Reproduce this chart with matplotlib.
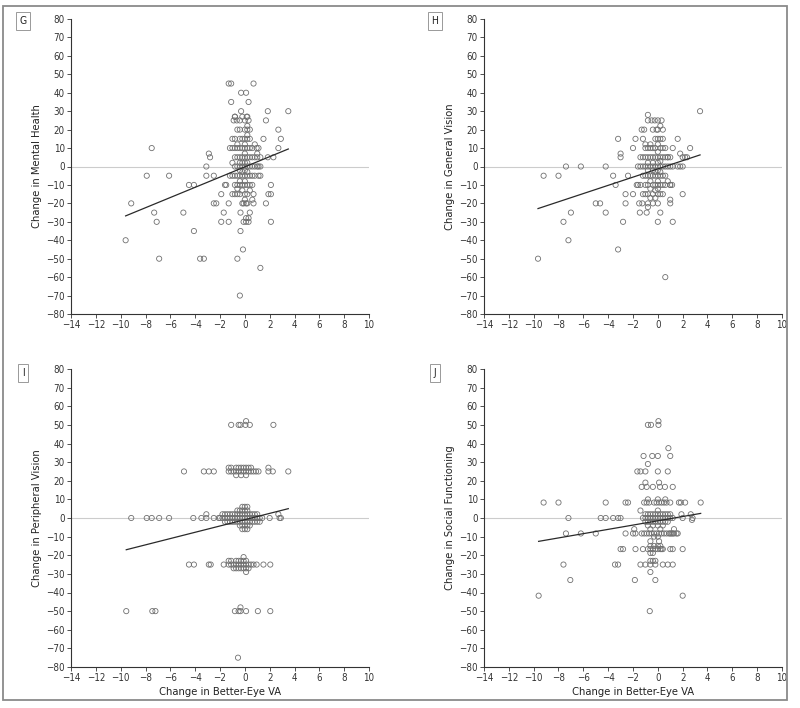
import numpy as np
import matplotlib.pyplot as plt
from matplotlib.patches import Rectangle
from matplotlib import font_manager

# a narrow face if one is around, else plain DejaVu
names = {f.name for f in font_manager.fontManager.ttflist}
narrow = [n for n in ['Liberation Sans Narrow', 'DejaVu Sans'] if n in names]
plt.rcParams['font.family'] = narrow
plt.rcParams['font.stretch'] = 'condensed'

# ---- data ----
x_ticks = list(range(-14, 11, 2))
y_ticks = list(range(-80, 81, 10))

panel_letters = ['G', 'H', 'I', 'J']
panel_ylabels = ['Change in Mental Health', 'Change in General Vision',
                 'Change in Peripheral Vision', 'Change in Social Functioning']
x_label = 'Change in Better-Eye VA'

# fitted regression lines (slope, intercept)
fit_slopes = [2.77, 2.23, 1.69, 1.15]
fit_intercepts = [-0.2, -1.3, -0.9, -1.5]

# G: mental health, scattered points
g_points = [(-9.6, -40), (-9.15, -20), (-7.5, 10), (-7.9, -5), (-7.3, -25), (-7.1, -30),
            (-6.9, -50), (-6.1, -5), (-4.95, -25), (-4.5, -10), (-4.1, -10), (-4.1, -35),
            (-3.6, -50), (-3.3, -50), (-2.9, 7), (-2.8, 5), (-3.1, 0), (-3.1, -5),
            (-2.5, -5), (-2.5, -20), (-2.3, -20), (-1.9, -15), (-1.9, -30), (-1.7, -25),
            (-1.6, -10), (-1.5, -10), (-1.3, -20), (-1.3, -30), (-1.3, 45), (-1.1, 45),
            (-1.1, 35), (0.7, 45), (-0.3, 40), (0.1, 40), (0.3, 35), (-0.3, 30),
            (1.85, 30), (3.5, 30), (1.7, 25), (2.7, 20), (2.9, 15), (1.5, 15), (2.7, 10),
            (2.3, 5), (1.85, 5), (2.1, -10), (2.1, -15), (1.9, -15), (1.7, -20),
            (2.1, -30), (1.25, -55), (-0.35, -35), (-0.15, -45), (-0.6, -50), (-0.4, -70),
            (0.4, -25), (0.3, -30), (0.1, -30), (-0.1, -30), (0.1, -28), (0.3, -28),
            (0.7, -20), (0.7, -15), (-0.35, -25), (-0.1, -20), (0.1, -20), (-0.9, 25),
            (-0.65, 25), (-0.8, 27), (0.15, 27), (0.3, 25), (1.1, -5), (1.25, -5),
            (1.25, 0), (1.1, 0), (0.95, 10), (1.1, 10), (1.25, 5)]
# G: dense centre, x -> list of y
g_columns = {-1.2: [10, -5], -1.0: [10, 2, -5, -15, 15],
             -0.8: [10, 15, 5, 0, -5, -10, -15, 27],
             -0.6: [10, 12, 5, 0, -5, -10, -15, 20, -12],
             -0.4: [20, 15, 10, 5, 2, 0, -2, -5, -8, -10, -15, 25],
             -0.2: [15, 10, 5, 2, 0, -3, -5, -10, -13, -20, 27],
             0.0: [25, 20, 15, 12, 10, 7, 5, 2, 0, -2, -5, -8, -10, -15, -18],
             0.2: [27, 22, 20, 17, 15, 10, 5, 2, 0, -3, -5, -10, -15, -20],
             0.4: [20, 15, 10, 5, 0, -5, -10, -13],
             0.6: [10, 5, 0, -5, -10, -18], 0.8: [12, 5, 0, -5], 1.0: [7, 5, 0]}

# H: general vision
h_points = [(-9.65, -50), (-9.2, -5), (-8.0, -5), (-7.6, -30), (-7.4, 0), (-7.2, -40),
            (-7.0, -25), (-6.2, 0), (-5.0, -20), (-4.65, -20), (-4.2, 0), (-4.2, -25),
            (-3.6, -5), (-3.4, -10), (-3.2, 15), (-3.0, 7), (-3.0, 5), (-3.2, -45),
            (-2.8, -30), (-2.6, -15), (-2.6, -20), (-2.4, -5), (-2.0, 10), (-2.0, -15),
            (-1.8, 15), (-1.7, -10), (-1.45, -25), (-1.5, -20), (-1.25, -20), (-1.2, 15),
            (-1.3, 20), (-1.1, 20), (-0.8, 28), (-0.8, 25), (-0.5, 25), (-0.25, 25),
            (0.0, 25), (0.3, 25), (-0.4, 20), (-0.1, 20), (0.4, 20), (-0.9, -25),
            (-0.8, -22), (0.0, -30), (0.2, -25), (0.6, -60), (1.2, -30), (1.0, -20),
            (1.0, -18), (2.0, -15), (1.6, 15), (1.2, 10), (1.8, 7), (2.0, 5), (2.2, 5),
            (2.35, 5), (2.6, 10), (3.4, 30), (1.6, 0), (1.8, 0), (2.0, 0), (0.8, 5),
            (1.0, 5), (1.15, -10), (1.0, -10)]
h_columns = {-1.6: [0, -10], -1.4: [0, 5, -10], -1.2: [0, 5, -5, -15],
             -1.0: [0, 5, 10, 12, -5, -10, -15],
             -0.8: [0, 2, 5, 10, -2, -5, -10, -15, -20],
             -0.6: [0, 5, 10, 12, -5, -8, -12, -17],
             -0.4: [0, 2, 5, 10, -2, -5, -10, -15, -20],
             -0.2: [0, 5, 10, 15, -3, -5, -10, -13, -17],
             0.0: [0, 2, 5, 8, 12, 15, 20, -2, -5, -8, -10, -12, -15, -20],
             0.2: [0, 3, 5, 10, 15, 22, -3, -5, -10, -15],
             0.4: [0, 5, 10, 15, -5, -10, -15], 0.6: [0, 5, 10, -5, -10],
             0.8: [0, 5, -8], 1.0: [0, -10], 1.2: [0]}

# I: peripheral vision
i_points = [(-1.1, 50), (-0.5, 50), (-0.35, 50), (0.1, 52), (0.05, 50), (0.4, 50), (2.3, 50),
            (-4.9, 25), (-3.3, 25), (-2.9, 25), (-2.5, 25), (1.9, 27), (1.9, 25), (2.25, 25),
            (3.5, 25), (-9.15, 0), (-7.9, 0), (-7.5, 0), (-6.9, 0), (-6.1, 0), (-4.15, 0),
            (-3.5, 0), (-3.1, 2), (-3.1, 0), (-2.5, 0), (-2.1, 0), (2.0, 0), (2.7, 2),
            (2.8, 0), (2.9, 0), (-4.5, -25), (-4.1, -25), (-2.9, -25), (-2.75, -25),
            (-9.55, -50), (-7.45, -50), (-7.2, -50), (-0.8, -50), (-0.5, -50), (-0.35, -50),
            (-0.35, -48), (0.1, -50), (1.05, -50), (2.05, -50), (-0.55, -75)]
i_columns = {-2.0: [0], -1.8: [0, 2], -1.6: [0, 2, -2], -1.4: [0, 2, -2], -1.2: [0, 2, -2],
             -1.0: [0, 2, -2], -0.8: [0, 2, -2], -0.6: [0, 2, -2, 4],
             -0.4: [0, 2, -2, 4, -4], -0.2: [0, 2, -2, 4, -4, 6, -6],
             0.0: [0, 2, -2, 4, -4, 6, -6], 0.2: [0, 2, -2, 4, -4, 6, -6],
             0.4: [0, 2, -2, -4], 0.6: [0, 2, -2], 0.8: [0, 2, -2], 1.0: [0, 2, -2],
             1.2: [0, -2], 1.4: [0],
             -1.3: [25, 27, -25, -23], -1.1: [25, 27, -25, -23], -0.9: [25, -25, -27],
             -0.7: [25, 23, 27, -25, -23, -27], -0.5: [25, 27, -25, -23, -27],
             -0.3: [25, 23, 27, -25, -23, -27], -0.1: [25, 27, -25, -23, -27, -21],
             0.1: [25, 23, 27, -25, -23, -27, -29], 0.3: [25, 27, -25, -27],
             0.5: [25, 27, -25], 0.7: [25, -25], 0.9: [25], 1.1: [25],
             -1.7: [-25], 0.95: [-25], 1.5: [-25], 2.05: [-25]}

# J: social functioning
j_points = [(-9.2, 8.3), (-8.0, 8.3), (-9.6, -41.7), (-7.6, -25), (-7.4, -8.3), (-7.2, 0),
            (-7.05, -33.3), (-6.2, -8.3), (-5.0, -8.3), (-4.6, 0), (-4.2, 0), (-4.2, 8.3),
            (-3.6, 0), (-3.2, 0), (-3.0, 0), (-3.45, -25), (-3.2, -25), (-3.0, -16.7),
            (-2.8, -16.7), (-2.6, -8.3), (-2.6, 8.3), (-2.4, 8.3), (-2.0, -8.3),
            (-1.8, -8.3), (-1.9, -6), (-1.8, -16.7), (-1.85, -33.3), (-1.65, 25),
            (-1.4, 25), (-1.0, 25), (-1.15, 33.3), (-1.4, -25), (-1.0, -25), (-0.6, -25),
            (-0.4, -23), (-0.2, -25), (0.4, -25), (0.8, -25), (1.2, -25), (-0.8, 29),
            (-0.45, 33.3), (0.0, 33.3), (-0.8, 50), (-0.55, 50), (0.05, 52), (0.05, 50),
            (0.85, 37.5), (1.0, 33.3), (0.8, 25), (0.0, 25), (-1.0, 19), (0.1, 19),
            (-1.3, 16.7), (-0.9, 16.7), (-0.4, 16.7), (0.17, 16.7), (0.57, 16.7),
            (1.2, 16.7), (-0.6, -29), (-0.2, -33.3), (-0.65, -50), (2.0, -41.7),
            (2.0, -16.7), (1.7, 8.3), (1.85, 8.3), (2.2, 8.3), (3.45, 8.3), (1.9, 2),
            (2.0, 0), (2.65, 2), (2.8, 0), (2.75, -1), (1.0, -8.3), (1.2, -8.3),
            (1.6, -8.3), (1.2, -16.7), (1.0, -16.7), (0.4, -16.7)]
# J: dense centre, y -> list of x
j_rows = {10.0: [-0.8, 0.0, 0.6],
          8.3: [-1.1, -0.9, -0.7, -0.3, -0.1, 0.1, 0.3, 0.5, 0.7, 1.0],
          4.0: [-1.4, 0.0],
          2.0: [-1.0, -0.8, -0.6, -0.4, -0.2, 0.0, 0.2, 0.4, 0.6, 0.8, 1.0],
          0.0: [-1.2, -1.0, -0.8, -0.6, -0.4, -0.2, 0.0, 0.2, 0.4, 0.6, 0.8, 1.0, 1.2],
          -2.0: [-1.0, -0.8, -0.6, -0.4, -0.2, 0.0, 0.2, 0.4, 0.6, 0.8],
          -4.0: [-0.8, -0.4, 0.0, 0.4],
          -6.0: [-0.6, 0.2, 1.3],
          -8.3: [-1.3, -1.1, -0.9, -0.7, -0.5, -0.3, -0.1, 0.1, 0.3, 0.5, 0.7, 0.9,
                 1.1, 1.3, 1.5],
          -10.0: [-0.3, 0.0],
          -12.5: [-0.6, 0.1],
          -15.0: [-0.6, -0.3, 0.0, 0.2],
          -16.7: [-1.2, -0.8, -0.6, -0.4, -0.2, 0.0, 0.2, 0.3],
          -18.8: [-0.6, -0.4],
          -23.0: [-0.6, -0.2]}


def collect(points, columns=None, rows=None):
    xs = [p[0] for p in points]
    ys = [p[1] for p in points]
    if columns:
        for xv, yl in columns.items():
            xs += [xv] * len(yl)
            ys += list(yl)
    if rows:
        for yv, xl in rows.items():
            xs += list(xl)
            ys += [yv] * len(xl)
    return np.array(xs), np.array(ys)


panel_data = [collect(g_points, columns=g_columns),
              collect(h_points, columns=h_columns),
              collect(i_points, columns=i_columns),
              collect(j_points, rows=j_rows)]

W, H = 800, 708
fig = plt.figure(figsize=(W / 100, H / 100), dpi=100)

# axes boxes in pixels: left, top, right, bottom
boxes = [(71, 19, 369, 314), (484, 19, 782, 314),
         (71, 369, 369, 667), (484, 369, 782, 667)]
letter_pos = [(23, 21), (435, 21), (23, 373), (435, 373)]


def draw_panel(ax, x, y, slope, icpt, ylabel, show_xlabel):
    ax.axhline(0, color='#cccccc', lw=0.8, zorder=1)
    ax.scatter(x, y, s=14, facecolors='none', edgecolors='#707070',
               linewidths=0.6, zorder=2)
    fx = np.array([x.min(), x.max()])
    ax.plot(fx, icpt + slope * fx, color='#2a2a2a', lw=0.9, zorder=3)

    ax.set_xlim(-14, 10)
    ax.set_ylim(-80, 80)
    ax.set_xticks(x_ticks)
    ax.set_yticks(y_ticks)
    for s in ['top', 'right']:
        ax.spines[s].set_visible(False)
    for s in ['left', 'bottom']:
        ax.spines[s].set_color('#333333')
        ax.spines[s].set_linewidth(0.8)
    ax.tick_params(direction='out', length=3, width=0.6, colors='#333333',
                   labelsize=7, pad=1.5)
    ax.set_ylabel(ylabel, fontsize=8, color='#222222', labelpad=3)
    if show_xlabel:
        ax.set_xlabel(x_label, fontsize=8, color='#222222', labelpad=3)


for k in range(4):
    l, t, r, b = boxes[k]
    ax = fig.add_axes([l / W, 1 - b / H, (r - l) / W, (b - t) / H])
    x, y = panel_data[k]
    draw_panel(ax, x, y, fit_slopes[k], fit_intercepts[k], panel_ylabels[k], k >= 2)
    lx, ly = letter_pos[k]
    fig.text(lx / W, 1 - ly / H, panel_letters[k], fontsize=7.5, color='#222222',
             ha='center', va='center',
             bbox=dict(boxstyle='square,pad=0.35', fc='white', ec='#999999', lw=0.7))

# outer frame
fig.add_artist(Rectangle((3 / W, 1 - 700 / H), 784 / W, 694 / H,
                         transform=fig.transFigure, fill=False,
                         ec='#8a8a8a', lw=1.3))

fig.savefig('out.png', dpi=100)
